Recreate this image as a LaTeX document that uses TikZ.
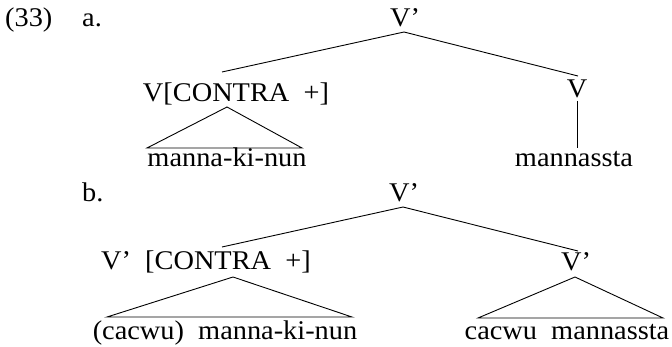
\documentclass[tikz,border=0pt]{standalone}
\usepackage{fontspec}
\setmainfont[FakeStretch=1.05]{Liberation Serif}
\begin{document}
\begin{tikzpicture}[x=1pt,y=1pt,
  lab/.style={inner sep=0pt,anchor=base,font=\fontsize{27}{30}\selectfont},
  br/.style={line width=0.9pt,black}]
\useasboundingbox (0,0) rectangle (672,-347);
% (a)
\node[lab,anchor=base west] (num) at (5,-27) {(33)};
\node[lab,anchor=base west] (la) at (82,-27) {a.};
\node[lab] (ta) at (405,-27) {V’};
\node[lab] (ca) at (236,-102) {V[CONTRA\ \ +]};
\node[lab] (wa) at (227,-167) {manna-ki-nun};
\node[lab] (va) at (577,-98) {V};
\node[lab] (ma) at (574,-167) {mannassta};
\coordinate (ta1) at (404,-32);
\coordinate (ca1) at (222,-72);
\coordinate (va1) at (578,-76);
\coordinate (ca2) at (227,-107);
\coordinate (wa1) at (147,-148);
\coordinate (wa2) at (302,-148);
\coordinate (va2) at (577,-101);
\coordinate (ma1) at (577,-148);
\draw[br] (ca1) -- (ta1) -- (va1);
\draw[br] (wa1) -- (ca2) -- (wa2) -- cycle;
\draw[br] (va2) -- (ma1);
% (b)
\node[lab,anchor=base west] (lb) at (82,-202) {b.};
\node[lab] (tb) at (404,-202) {V’};
\node[lab] (cb) at (206,-270) {V’\ \ [CONTRA\ \ +]};
\node[lab] (wb) at (225,-339) {(cacwu)\ \ manna-ki-nun};
\node[lab] (vb) at (576,-271) {V’};
\node[lab] (mb) at (567,-339) {cacwu\ \ mannassta};
\coordinate (tb1) at (403,-207);
\coordinate (cb1) at (222,-247);
\coordinate (vb1) at (578,-251);
\coordinate (cb2) at (233,-277);
\coordinate (wb1) at (107,-317);
\coordinate (wb2) at (352,-317);
\coordinate (vb2) at (575,-277);
\coordinate (mb1) at (478,-318);
\coordinate (mb2) at (663,-318);
\draw[br] (cb1) -- (tb1) -- (vb1);
\draw[br] (wb1) -- (cb2) -- (wb2) -- cycle;
\draw[br] (mb1) -- (vb2) -- (mb2) -- cycle;
\end{tikzpicture}
\end{document}
